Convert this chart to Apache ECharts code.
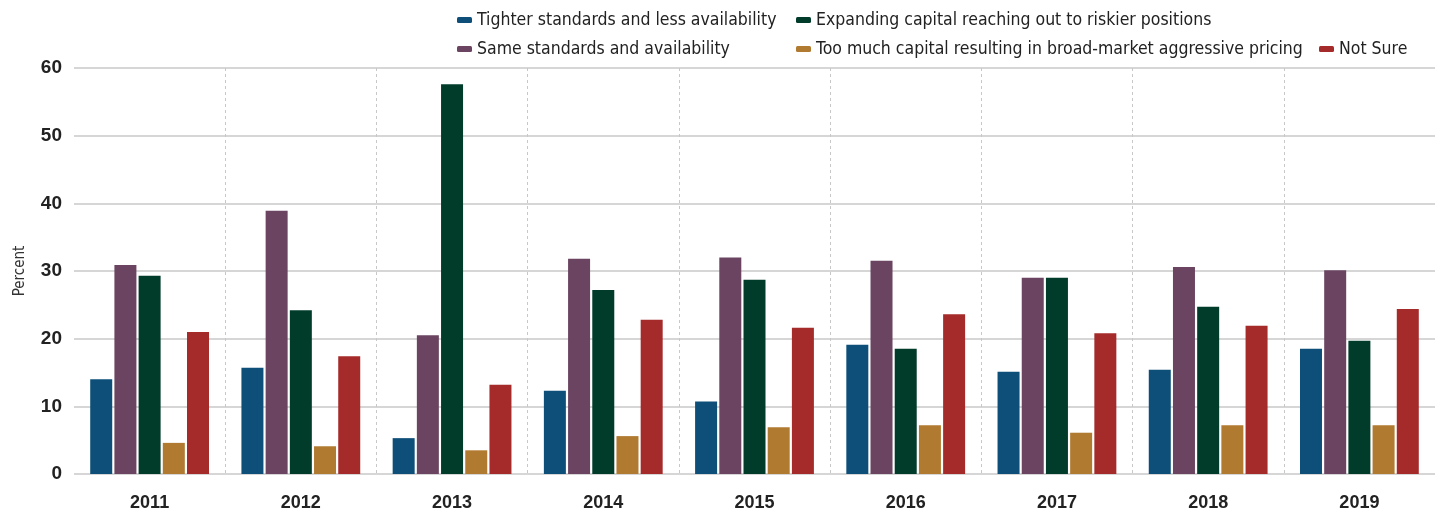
<!DOCTYPE html>
<html>
<head>
<meta charset="utf-8">
<script src="https://cdn.jsdelivr.net/npm/echarts@6/dist/echarts.min.js"></script>
<style>
    html, body { margin: 0; padding: 0; background: #fff; }
    #chart { width: 1447px; height: 514px; }
</style>
</head>
<body>
<div id="chart"></div>
<script>
// 年份
var years = ['2011', '2012', '2013', '2014', '2015', '2016', '2017', '2018', '2019'];

// 各系列数值 (Percent)
var tighter = [14.0, 15.7, 5.3, 12.3, 10.7, 19.1, 15.1, 15.4, 18.5];
var same = [30.9, 38.9, 20.5, 31.8, 32.0, 31.5, 29.0, 30.6, 30.1];
var expanding = [29.3, 24.2, 57.6, 27.2, 28.7, 18.5, 29.0, 24.7, 19.7];
var tooMuch = [4.6, 4.1, 3.5, 5.6, 6.9, 7.2, 6.1, 7.2, 7.2];
var notSure = [21.0, 17.4, 13.2, 22.8, 21.6, 23.6, 20.8, 21.9, 24.4];

var names = [
    'Tighter standards and less availability',
    'Same standards and availability',
    'Expanding capital reaching out to riskier positions',
    'Too much capital resulting in broad-market aggressive pricing',
    'Not Sure'
];
var colors = ['#0d4f78', '#6a4460', '#013c2b', '#b07a30', '#a52a2a'];

var textFont = "'Liberation Sans Narrow', 'DejaVu Sans Condensed', sans-serif";

function legendAt(left, top, data) {
    return {
        orient: 'vertical',
        left: left,
        top: top,
        itemGap: 11,
        itemWidth: 15,
        itemHeight: 6,
        icon: 'roundRect',
        data: data,
        textStyle: { fontFamily: textFont, fontSize: 17.5, color: '#222' }
    };
}

var myChart = echarts.init(document.getElementById('chart'));

var option = {
    animation: false,
    legend: [
        legendAt(452, 6, [names[0], names[1]]),
        legendAt(791, 6, [names[2], names[3]]),
        legendAt(1314, 35, [names[4]])
    ],
    grid: { left: 74, right: 12, top: 68, bottom: 40 },
    xAxis: {
        type: 'category',
        data: years,
        axisLine: { show: false },
        axisTick: { show: false },
        axisLabel: {
            margin: 20,
            fontFamily: "'Liberation Sans', Arial, sans-serif",
            fontWeight: 'bold',
            fontSize: 18,
            color: '#222'
        },
        splitLine: {
            show: true,
            showMinLine: false,
            showMaxLine: false,
            lineStyle: { color: '#c8c8c8', type: [3, 3], width: 1 }
        }
    },
    yAxis: {
        type: 'value',
        min: 0,
        max: 60,
        interval: 10,
        name: 'Percent',
        nameLocation: 'middle',
        nameGap: 46,
        nameTextStyle: { fontFamily: textFont, fontSize: 15, color: '#333' },
        axisLine: { show: false },
        axisTick: { show: false },
        axisLabel: {
            margin: 12,
            fontFamily: "'Liberation Sans', Arial, sans-serif",
            fontWeight: 'bold',
            fontSize: 19,
            color: '#222'
        },
        splitLine: { lineStyle: { color: '#c8c8c8', width: 1.5 } }
    },
    series: [tighter, same, expanding, tooMuch, notSure].map(function (vals, i) {
        return {
            name: names[i],
            type: 'bar',
            data: vals,
            barWidth: 22,
            barGap: '10%',
            itemStyle: { color: colors[i] }
        };
    })
};

myChart.setOption(option);
</script>
</body>
</html>
